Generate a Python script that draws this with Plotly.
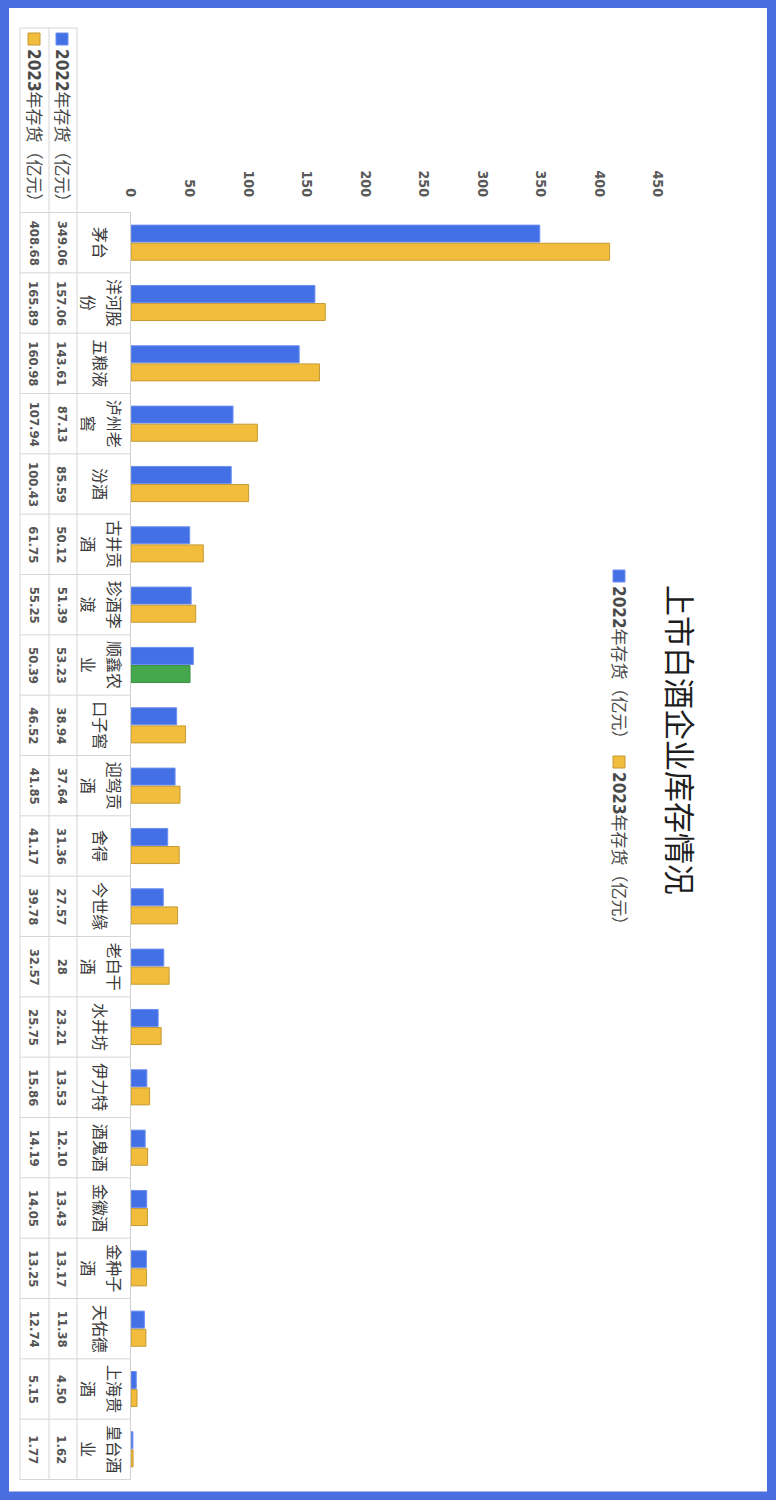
import plotly.graph_objects as go

# 上市白酒企业库存情况 (chart drawn rotated 90° clockwise)
companies = ["茅台", "洋河股份", "五粮液", "泸州老窖", "汾酒", "古井贡酒", "珍酒李渡",
             "顺鑫农业", "口子窖", "迎驾贡酒", "舍得", "今世缘", "老白干酒", "水井坊",
             "伊力特", "酒鬼酒", "金徽酒", "金种子酒", "天佑德", "上海贵酒", "皇台酒业"]
inv_2022 = [349.06, 157.06, 143.61, 87.13, 85.59, 50.12, 51.39, 53.23, 38.94, 37.64,
            31.36, 27.57, 28, 23.21, 13.53, 12.10, 13.43, 13.17, 11.38, 4.50, 1.62]
inv_2023 = [408.68, 165.89, 160.98, 107.94, 100.43, 61.75, 55.25, 50.39, 46.52, 41.85,
            41.17, 39.78, 32.57, 25.75, 15.86, 14.19, 14.05, 13.25, 12.74, 5.15, 1.77]
label_2022 = ["349.06", "157.06", "143.61", "87.13", "85.59", "50.12", "51.39", "53.23",
              "38.94", "37.64", "31.36", "27.57", "28", "23.21", "13.53", "12.10",
              "13.43", "13.17", "11.38", "4.50", "1.62"]
label_2023 = ["408.68", "165.89", "160.98", "107.94", "100.43", "61.75", "55.25", "50.39",
              "46.52", "41.85", "41.17", "39.78", "32.57", "25.75", "15.86", "14.19",
              "14.05", "13.25", "12.74", "5.15", "1.77"]
series_names = ["2022年存货（亿元）", "2023年存货（亿元）"]
title_text = "上市白酒企业库存情况"

BLUE = "#4470e6"
GOLD = "#f2bd3c"
GREEN = "#46a84c"

W, H = 776, 1500
L, R, T, B = 131, 118, 212, 20
PW, PH = W - L - R, H - T - B

NUM_FONT = "DejaVu Sans Condensed, Liberation Sans Narrow, sans-serif"
CJK_FONT = "Noto Sans CJK SC, sans-serif"
MIX_FONT = "DejaVu Sans Condensed, Noto Sans CJK SC, sans-serif"


def px(xp):
    return (xp - L) / PW


def py(yp):
    return 1 - (yp - T) / PH


colors_2023 = [GOLD] * len(companies)
colors_2023[companies.index("顺鑫农业")] = GREEN
lines_2023 = ["#c49a35"] * len(companies)
lines_2023[companies.index("顺鑫农业")] = "#3c9040"

fig = go.Figure()
fig.add_trace(go.Bar(y=companies, x=inv_2022, orientation="h", name=series_names[0],
                     marker=dict(color=BLUE, line=dict(color="#6d8ff0", width=1))))
fig.add_trace(go.Bar(y=companies, x=inv_2023, orientation="h", name=series_names[1],
                     marker=dict(color=colors_2023, line=dict(color=lines_2023, width=1))))

shapes = []
annos = []
grid = "#d6d6d6"

# data table: horizontal rules between categories
for i in range(len(companies) + 1):
    shapes.append(dict(type="line", xref="paper", yref="y", x0=px(20), x1=px(131),
                       y0=i - 0.5, y1=i - 0.5, line=dict(color=grid, width=1)))
# header top and vertical rules
shapes.append(dict(type="line", xref="paper", yref="paper", x0=px(20), x1=px(77),
                   y0=py(28), y1=py(28), line=dict(color=grid, width=1)))
for xv in [20, 49, 77]:
    shapes.append(dict(type="line", xref="paper", yref="paper", x0=px(xv), x1=px(xv),
                       y0=py(28), y1=py(1480), line=dict(color=grid, width=1)))


def rot_text(x, y, text, font, yref="y"):
    return dict(xref="paper", yref=yref, x=x, y=y, text=text, textangle=90,
                xanchor="center", yanchor="middle", showarrow=False, font=font)


# table cells (category names wrap after three characters)
cat_font = dict(family=CJK_FONT, size=16, color="#3a3a3a")
num_font = dict(family=NUM_FONT, size=13, color="#555555", weight="bold")
for i, name in enumerate(companies):
    if len(name) <= 3:
        annos.append(rot_text(px(101), i, name, cat_font))
    else:
        annos.append(rot_text(px(115), i, name[:3], cat_font))
        annos.append(rot_text(px(89), i, name[3:], cat_font))
    annos.append(rot_text(px(62), i, label_2022[i], num_font))
    annos.append(rot_text(px(34), i, label_2023[i], num_font))


def legend_entry(xc, ytop, color, edge, name, size):
    shapes.append(dict(type="rect", xref="paper", yref="paper",
                       x0=px(xc - 6), x1=px(xc + 6), y0=py(ytop), y1=py(ytop + 12),
                       fillcolor=color, line=dict(color=edge, width=1)))
    a = rot_text(px(xc), py(ytop + 14), "<b>" + name[:4] + "</b>" + name[4:],
                 dict(family=MIX_FONT, size=size, color="#4a4a4a"), yref="paper")
    a["yanchor"] = "top"
    annos.append(a)


# legend inside table header
legend_entry(62, 33, BLUE, "#6d8ff0", series_names[0], 17)
legend_entry(34, 33, GOLD, "#c49a35", series_names[1], 17)
# main legend beside title
legend_entry(619, 570, BLUE, "#6d8ff0", series_names[0], 17)
legend_entry(619, 756, GOLD, "#c49a35", series_names[1], 17)

# title
annos.append(rot_text(px(682), py(740), title_text,
                      dict(family=CJK_FONT, size=31, color="#1e1e1e"), yref="paper"))

# outer blue frame
shapes.append(dict(type="rect", xref="paper", yref="paper",
                   x0=px(4.5), x1=px(771.5), y0=py(3.5), y1=py(1496),
                   line=dict(color="#4a6ee0", width=9), layer="above"))

fig.update_layout(
    width=W, height=H,
    margin=dict(l=L, r=R, t=T, b=B),
    paper_bgcolor="white", plot_bgcolor="white",
    barmode="group", bargap=0.4, bargroupgap=0.06,
    showlegend=False,
    shapes=shapes, annotations=annos,
    xaxis=dict(side="top", range=[0, 450], dtick=50, tickangle=90,
               showgrid=False, zeroline=False, showline=False, ticks="",
               ticklabelstandoff=12,
               tickfont=dict(family=NUM_FONT, size=14, color="#595959", weight="bold")),
    yaxis=dict(autorange="reversed", showticklabels=False, showgrid=False,
               showline=True, linecolor="#cfcfcf", linewidth=1, ticks=""),
)

# drop the browser's default body margin so the frame sits at the window edge
fig.write_html("out.html", config={"displayModeBar": False},
               post_script="document.body.style.margin='0';")
